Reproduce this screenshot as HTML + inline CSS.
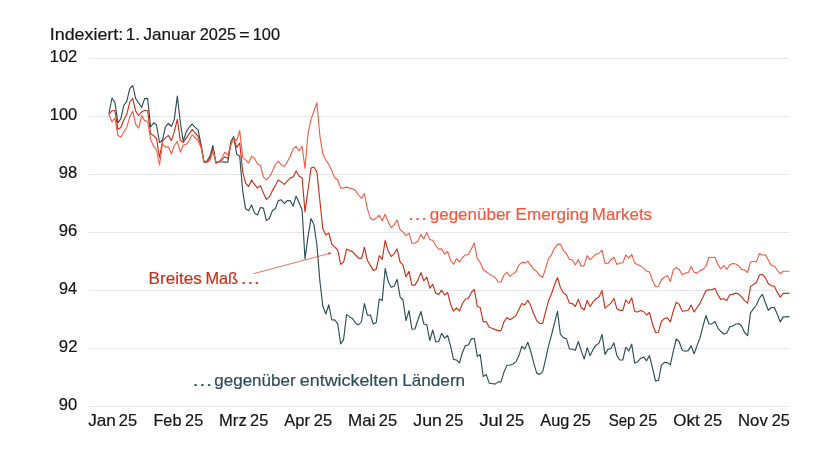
<!DOCTYPE html>
<html lang="de"><head><meta charset="utf-8"><title>Chart</title>
<style>html,body{margin:0;padding:0;background:#fff}svg{display:block;font-family:"Liberation Sans", sans-serif}</style></head>
<body><svg width="840" height="457" viewBox="0 0 840 457">
<rect width="840" height="457" fill="#fff"/>
<line x1="89" x2="788.6" y1="58.5" y2="58.5" stroke="#e5e7e6" stroke-width="1"/>
<line x1="89" x2="788.6" y1="116.5" y2="116.5" stroke="#e5e7e6" stroke-width="1"/>
<line x1="89" x2="788.6" y1="174.5" y2="174.5" stroke="#e5e7e6" stroke-width="1"/>
<line x1="89" x2="788.6" y1="232.5" y2="232.5" stroke="#e5e7e6" stroke-width="1"/>
<line x1="89" x2="788.6" y1="290.5" y2="290.5" stroke="#e5e7e6" stroke-width="1"/>
<line x1="89" x2="788.6" y1="348.5" y2="348.5" stroke="#e5e7e6" stroke-width="1"/>
<line x1="89" x2="788.6" y1="406.5" y2="406.5" stroke="#e5e7e6" stroke-width="1"/>
<text x="49.72" y="39.9" font-size="15.9" fill="#161616" stroke="#161616" stroke-width="0.2" textLength="73.54" lengthAdjust="spacingAndGlyphs">Indexiert:</text>
<text x="125.69" y="39.9" font-size="15.9" fill="#161616" stroke="#161616" stroke-width="0.2" textLength="14.38" lengthAdjust="spacingAndGlyphs">1.</text>
<text x="143.48" y="39.9" font-size="15.9" fill="#161616" stroke="#161616" stroke-width="0.2" textLength="52.24" lengthAdjust="spacingAndGlyphs">Januar</text>
<text x="199.78" y="39.9" font-size="15.9" fill="#161616" stroke="#161616" stroke-width="0.2" textLength="36.3" lengthAdjust="spacingAndGlyphs">2025</text>
<text x="239.27" y="39.9" font-size="15.9" fill="#161616" stroke="#161616" stroke-width="0.2" textLength="10.35" lengthAdjust="spacingAndGlyphs">=</text>
<text x="252.78" y="39.9" font-size="15.9" fill="#161616" stroke="#161616" stroke-width="0.2" textLength="27.25" lengthAdjust="spacingAndGlyphs">100</text>
<text x="88.2" y="426.0" font-size="15.9" fill="#161616" stroke="#161616" stroke-width="0.2" textLength="27.71" lengthAdjust="spacingAndGlyphs">Jan</text>
<text x="118.83" y="426.0" font-size="15.9" fill="#161616" stroke="#161616" stroke-width="0.2" textLength="18.26" lengthAdjust="spacingAndGlyphs">25</text>
<text x="153.43" y="426.0" font-size="15.9" fill="#161616" stroke="#161616" stroke-width="0.2" textLength="28.05" lengthAdjust="spacingAndGlyphs">Feb</text>
<text x="185.12" y="426.0" font-size="15.9" fill="#161616" stroke="#161616" stroke-width="0.2" textLength="18.14" lengthAdjust="spacingAndGlyphs">25</text>
<text x="219.12" y="426.0" font-size="15.9" fill="#161616" stroke="#161616" stroke-width="0.2" textLength="27.54" lengthAdjust="spacingAndGlyphs">Mrz</text>
<text x="250.12" y="426.0" font-size="15.9" fill="#161616" stroke="#161616" stroke-width="0.2" textLength="18.14" lengthAdjust="spacingAndGlyphs">25</text>
<text x="284.27" y="426.0" font-size="15.9" fill="#161616" stroke="#161616" stroke-width="0.2" textLength="25.62" lengthAdjust="spacingAndGlyphs">Apr</text>
<text x="313.83" y="426.0" font-size="15.9" fill="#161616" stroke="#161616" stroke-width="0.2" textLength="18.26" lengthAdjust="spacingAndGlyphs">25</text>
<text x="348.11" y="426.0" font-size="15.9" fill="#161616" stroke="#161616" stroke-width="0.2" textLength="27.49" lengthAdjust="spacingAndGlyphs">Mai</text>
<text x="378.83" y="426.0" font-size="15.9" fill="#161616" stroke="#161616" stroke-width="0.2" textLength="18.26" lengthAdjust="spacingAndGlyphs">25</text>
<text x="413.32" y="426.0" font-size="15.9" fill="#161616" stroke="#161616" stroke-width="0.2" textLength="28.57" lengthAdjust="spacingAndGlyphs">Jun</text>
<text x="445.12" y="426.0" font-size="15.9" fill="#161616" stroke="#161616" stroke-width="0.2" textLength="18.14" lengthAdjust="spacingAndGlyphs">25</text>
<text x="479.42" y="426.0" font-size="15.9" fill="#161616" stroke="#161616" stroke-width="0.2" textLength="23.28" lengthAdjust="spacingAndGlyphs">Jul</text>
<text x="505.83" y="426.0" font-size="15.9" fill="#161616" stroke="#161616" stroke-width="0.2" textLength="18.26" lengthAdjust="spacingAndGlyphs">25</text>
<text x="540.31" y="426.0" font-size="15.9" fill="#161616" stroke="#161616" stroke-width="0.2" textLength="28.93" lengthAdjust="spacingAndGlyphs">Aug</text>
<text x="572.7" y="426.0" font-size="15.9" fill="#161616" stroke="#161616" stroke-width="0.2" textLength="18.14" lengthAdjust="spacingAndGlyphs">25</text>
<text x="608.74" y="426.0" font-size="15.9" fill="#161616" stroke="#161616" stroke-width="0.2" textLength="26.71" lengthAdjust="spacingAndGlyphs">Sep</text>
<text x="639.12" y="426.0" font-size="15.9" fill="#161616" stroke="#161616" stroke-width="0.2" textLength="18.14" lengthAdjust="spacingAndGlyphs">25</text>
<text x="673.34" y="426.0" font-size="15.9" fill="#161616" stroke="#161616" stroke-width="0.2" textLength="26.39" lengthAdjust="spacingAndGlyphs">Okt</text>
<text x="703.83" y="426.0" font-size="15.9" fill="#161616" stroke="#161616" stroke-width="0.2" textLength="18.26" lengthAdjust="spacingAndGlyphs">25</text>
<text x="738.07" y="426.0" font-size="15.9" fill="#161616" stroke="#161616" stroke-width="0.2" textLength="29.67" lengthAdjust="spacingAndGlyphs">Nov</text>
<text x="771.7" y="426.0" font-size="15.9" fill="#161616" stroke="#161616" stroke-width="0.2" textLength="18.14" lengthAdjust="spacingAndGlyphs">25</text>
<text x="49.74" y="61.9" font-size="15.9" fill="#161616" stroke="#161616" stroke-width="0.2" textLength="27.5" lengthAdjust="spacingAndGlyphs">102</text>
<text x="49.75" y="119.9" font-size="15.9" fill="#161616" stroke="#161616" stroke-width="0.2" textLength="27.55" lengthAdjust="spacingAndGlyphs">100</text>
<text x="58.89" y="177.9" font-size="15.9" fill="#161616" stroke="#161616" stroke-width="0.2" textLength="18.47" lengthAdjust="spacingAndGlyphs">98</text>
<text x="58.87" y="235.9" font-size="15.9" fill="#161616" stroke="#161616" stroke-width="0.2" textLength="18.52" lengthAdjust="spacingAndGlyphs">96</text>
<text x="58.94" y="293.9" font-size="15.9" fill="#161616" stroke="#161616" stroke-width="0.2" textLength="18.01" lengthAdjust="spacingAndGlyphs">94</text>
<text x="58.85" y="351.9" font-size="15.9" fill="#161616" stroke="#161616" stroke-width="0.2" textLength="18.61" lengthAdjust="spacingAndGlyphs">92</text>
<text x="58.89" y="409.9" font-size="15.9" fill="#161616" stroke="#161616" stroke-width="0.2" textLength="18.45" lengthAdjust="spacingAndGlyphs">90</text>
<polyline points="109.0,113.0 112.0,98.0 114.9,102.4 117.9,123.0 120.9,118.6 123.8,105.5 126.8,101.1 129.8,88.6 132.8,85.5 135.7,98.6 138.7,103.0 141.7,107.4 144.6,98.6 147.6,98.4 150.6,127.0 153.6,122.8 156.5,125.0 159.5,142.5 162.5,140.0 165.4,126.9 168.4,123.5 171.4,126.5 174.3,119.4 177.3,96.1 180.3,122.0 183.2,141.2 186.2,131.9 189.2,127.2 192.2,124.0 195.1,127.4 198.1,129.9 201.1,144.9 204.0,161.8 207.0,161.1 210.0,156.1 212.9,145.5 215.9,163.2 218.9,161.8 221.9,162.0 224.8,162.1 227.8,162.1 230.8,141.8 233.7,136.5 236.7,154.2 239.7,156.2 242.7,191.0 245.6,208.8 248.6,210.6 251.6,205.0 254.5,213.1 257.5,215.0 260.5,207.5 263.4,208.1 266.4,220.6 269.4,218.5 272.4,210.6 275.3,208.8 278.3,200.6 281.3,199.8 284.2,203.5 287.2,200.6 290.2,200.6 293.1,206.2 296.1,196.2 299.1,202.5 302.1,210.0 305.0,258.8 308.0,236.9 311.0,218.5 313.9,224.4 316.9,245.0 319.9,281.2 322.8,306.0 325.8,314.0 328.8,304.8 331.8,320.0 334.7,319.8 337.7,323.8 340.7,344.0 343.6,339.4 346.6,314.4 349.6,316.9 352.5,318.5 355.5,323.1 358.5,325.0 361.5,321.5 364.4,303.5 367.4,315.2 370.4,315.0 373.3,324.0 376.3,322.5 379.3,299.0 382.2,300.6 385.2,268.5 388.2,281.6 391.2,287.3 394.1,286.2 397.1,279.4 400.1,296.9 403.0,300.0 406.0,320.6 409.0,310.6 411.9,329.2 414.9,329.0 417.9,320.0 420.9,311.5 423.8,324.0 426.8,324.8 429.8,340.5 432.7,330.0 435.7,341.9 438.7,341.5 441.6,333.4 444.6,338.1 447.6,335.5 450.6,346.2 453.5,359.4 456.5,360.0 459.5,362.8 462.4,352.5 465.4,345.6 468.4,345.0 471.3,338.9 474.3,338.5 477.3,356.4 480.2,354.6 483.2,376.4 486.2,374.4 489.2,383.1 492.1,383.5 495.1,384.1 498.1,381.9 501.0,381.9 504.0,371.9 507.0,365.2 510.0,365.2 512.9,364.0 515.9,361.9 518.9,355.6 521.8,346.5 524.8,349.0 527.8,342.2 530.7,351.2 533.7,362.8 536.7,373.1 539.7,374.4 542.6,371.9 545.6,359.4 548.6,345.6 551.5,335.0 554.5,323.0 557.5,311.2 560.4,334.4 563.4,337.6 566.4,338.7 569.4,348.9 572.3,349.2 575.3,350.2 578.3,341.5 581.2,350.6 584.2,359.0 587.2,347.8 590.1,355.6 593.1,349.4 596.1,345.2 599.0,343.1 602.0,334.4 605.0,354.4 608.0,349.4 610.9,348.5 613.9,342.8 616.9,355.6 619.8,360.0 622.8,360.0 625.8,347.2 628.8,351.0 631.7,344.2 634.7,363.1 637.7,361.7 640.6,358.3 643.6,357.1 646.6,360.8 649.5,355.6 652.5,368.1 655.5,381.0 658.5,380.4 661.4,365.4 664.4,362.4 667.4,362.6 670.3,364.8 673.3,351.2 676.3,339.0 679.2,341.7 682.2,350.0 685.2,351.2 688.2,350.6 691.1,345.6 694.1,353.8 697.1,345.6 700.0,337.8 703.0,326.2 706.0,315.5 708.9,324.0 711.9,323.9 714.9,321.4 717.9,328.1 720.8,331.5 723.8,334.0 726.8,333.1 729.7,326.9 732.7,326.0 735.7,324.2 738.6,323.5 741.6,326.0 744.6,332.5 747.6,335.6 750.5,312.8 753.5,308.8 756.5,305.0 759.4,298.1 762.4,294.4 765.4,302.8 768.3,310.2 771.3,307.5 774.3,307.5 777.2,314.0 780.2,321.9 783.2,316.9 786.2,316.9 789.1,316.6" fill="none" stroke="#2e4f57" stroke-width="1.15" stroke-linejoin="round" stroke-linecap="round"/>
<polyline points="109.0,113.9 112.0,110.8 114.9,110.5 117.9,129.3 120.9,127.5 123.8,120.0 126.8,114.3 129.8,101.8 132.8,98.6 135.7,111.1 138.7,115.5 141.7,111.8 144.6,110.5 147.6,110.5 150.6,133.8 153.6,135.6 156.5,138.5 159.5,157.5 162.5,141.2 165.4,138.1 168.4,135.4 171.4,140.6 174.3,131.9 177.3,119.4 180.3,140.6 183.2,142.5 186.2,138.1 189.2,133.8 192.2,129.4 195.1,133.0 198.1,136.2 201.1,146.1 204.0,162.0 207.0,161.8 210.0,158.0 212.9,148.6 215.9,162.4 218.9,161.5 221.9,159.9 224.8,156.8 227.8,158.6 230.8,144.9 233.7,138.0 236.7,147.4 239.7,143.0 242.7,171.9 245.6,183.1 248.6,186.5 251.6,180.0 254.5,184.4 257.5,188.1 260.5,185.6 263.4,193.1 266.4,199.4 269.4,196.9 272.4,190.6 275.3,185.6 278.3,180.0 281.3,181.9 284.2,184.4 287.2,181.2 290.2,178.1 293.1,176.9 296.1,171.0 299.1,176.2 302.1,177.8 305.0,211.9 308.0,190.0 311.0,168.1 313.9,167.0 316.9,171.9 319.9,201.0 322.8,228.5 325.8,235.0 328.8,233.0 331.8,244.0 334.7,246.9 337.7,250.0 340.7,264.4 343.6,262.2 346.6,249.0 349.6,250.6 352.5,251.6 355.5,255.0 358.5,258.1 361.5,258.5 364.4,247.2 367.4,260.5 370.4,265.4 373.3,270.4 376.3,269.0 379.3,255.6 382.2,259.4 385.2,240.4 388.2,251.0 391.2,256.5 394.1,253.8 397.1,248.9 400.1,262.0 403.0,264.8 406.0,276.8 409.0,271.4 411.9,285.1 414.9,285.1 417.9,280.1 420.9,272.6 423.8,280.8 426.8,277.2 429.8,288.2 432.7,284.3 435.7,293.1 438.7,294.4 441.6,290.0 444.6,295.0 447.6,292.5 450.6,304.4 453.5,311.0 456.5,307.8 459.5,311.0 462.4,303.8 465.4,299.0 468.4,298.5 471.3,292.5 474.3,289.4 477.3,306.5 480.2,307.5 483.2,321.9 486.2,321.5 489.2,327.3 492.1,328.3 495.1,329.6 498.1,330.6 501.0,330.6 504.0,321.9 507.0,317.5 510.0,319.8 512.9,317.8 515.9,315.6 518.9,309.4 521.8,303.5 524.8,305.0 527.8,300.2 530.7,305.6 533.7,313.8 536.7,320.6 539.7,323.5 542.6,323.5 545.6,311.9 548.6,300.6 551.5,293.8 554.5,285.0 557.5,277.5 560.4,287.5 563.4,293.1 566.4,295.0 569.4,303.1 572.3,303.5 575.3,306.5 578.3,299.4 581.2,307.5 584.2,310.0 587.2,300.4 590.1,306.5 593.1,301.9 596.1,298.5 599.0,296.9 602.0,290.6 605.0,308.1 608.0,305.6 610.9,303.1 613.9,298.5 616.9,308.8 619.8,310.4 622.8,310.4 625.8,300.0 628.8,303.5 631.7,297.8 634.7,311.5 637.7,311.9 640.6,310.6 643.6,311.5 646.6,315.0 649.5,312.5 652.5,323.8 655.5,332.5 658.5,332.2 661.4,321.2 664.4,318.6 667.4,317.8 670.3,321.9 673.3,311.0 676.3,302.2 679.2,304.4 682.2,311.1 685.2,311.0 688.2,310.3 691.1,305.0 694.1,311.9 697.1,307.5 700.0,303.1 703.0,296.9 706.0,290.6 708.9,289.9 711.9,289.7 714.9,288.3 717.9,295.0 720.8,299.4 723.8,298.8 726.8,300.4 729.7,294.8 732.7,294.4 735.7,293.1 738.6,294.0 741.6,296.9 744.6,300.6 747.6,303.1 750.5,286.9 753.5,284.4 756.5,282.5 759.4,275.0 762.4,274.4 765.4,277.8 768.3,283.8 771.3,285.6 774.3,286.2 777.2,291.9 780.2,297.2 783.2,293.4 786.2,293.4 789.1,293.1" fill="none" stroke="#c9331c" stroke-width="1.15" stroke-linejoin="round" stroke-linecap="round"/>
<polyline points="109.0,114.2 112.0,122.0 114.9,118.1 117.9,135.6 120.9,137.2 123.8,131.9 126.8,127.2 129.8,116.9 132.8,111.2 135.7,124.4 138.7,128.1 141.7,115.6 144.6,120.6 147.6,121.2 150.6,139.4 153.6,146.2 156.5,150.0 159.5,165.0 162.5,143.8 165.4,146.9 168.4,146.9 171.4,153.8 174.3,145.6 177.3,141.2 180.3,152.2 183.2,145.0 186.2,144.4 189.2,140.6 192.2,134.8 195.1,137.5 198.1,140.5 201.1,148.0 204.0,162.4 207.0,162.4 210.0,160.5 212.9,151.1 215.9,161.8 218.9,161.8 221.9,158.0 224.8,152.0 227.8,154.9 230.8,144.9 233.7,138.6 236.7,140.5 239.7,130.5 242.7,157.4 245.6,159.9 248.6,163.0 251.6,156.3 254.5,158.4 257.5,163.8 260.5,165.5 263.4,176.9 266.4,179.8 269.4,176.9 272.4,171.2 275.3,164.6 278.3,161.2 281.3,164.8 284.2,166.5 287.2,162.1 290.2,156.5 293.1,148.9 296.1,146.4 299.1,151.0 302.1,146.2 305.0,168.4 308.0,133.8 311.0,119.4 313.9,111.2 316.9,102.8 319.9,136.2 322.8,153.8 325.8,160.0 328.8,164.4 331.8,170.6 334.7,177.5 337.7,180.0 340.7,188.1 343.6,187.9 346.6,187.1 349.6,188.1 352.5,188.8 355.5,190.6 358.5,195.0 361.5,198.5 364.4,193.5 367.4,208.8 370.4,218.3 373.3,220.0 376.3,218.1 379.3,215.2 382.2,220.8 385.2,214.3 388.2,221.9 391.2,227.6 394.1,224.9 397.1,220.0 400.1,229.8 403.0,231.9 406.0,235.6 409.0,233.1 411.9,243.2 414.9,243.1 417.9,241.2 420.9,234.4 423.8,239.0 426.8,232.5 429.8,239.6 432.7,240.3 435.7,245.5 438.7,249.2 441.6,248.9 444.6,254.2 447.6,251.4 450.6,260.5 453.5,264.2 456.5,258.7 459.5,262.0 462.4,257.5 465.4,254.9 468.4,254.5 471.3,248.9 474.3,243.0 477.3,258.9 480.2,262.4 483.2,269.5 486.2,271.8 489.2,273.9 492.1,276.0 495.1,277.2 498.1,282.0 501.0,282.0 504.0,275.1 507.0,272.2 510.0,276.4 512.9,273.9 515.9,271.8 518.9,265.1 521.8,262.4 524.8,262.9 527.8,261.2 530.7,265.2 533.7,269.2 536.7,271.5 539.7,275.6 542.6,277.5 545.6,268.5 548.6,258.1 551.5,254.8 554.5,248.1 557.5,244.4 560.4,244.1 563.4,250.6 566.4,253.5 569.4,259.4 572.3,260.0 575.3,265.0 578.3,259.4 581.2,266.2 584.2,265.4 587.2,255.6 590.1,259.8 593.1,256.9 596.1,254.0 599.0,253.5 602.0,250.0 605.0,263.5 608.0,263.1 610.9,259.8 613.9,257.2 616.9,264.4 619.8,263.1 622.8,262.8 625.8,255.0 628.8,258.1 631.7,254.4 634.7,262.9 637.7,264.8 640.6,265.9 643.6,268.1 646.6,271.2 649.5,271.9 652.5,280.6 655.5,286.5 658.5,286.2 661.4,279.8 664.4,277.2 667.4,275.6 670.3,281.5 673.3,270.0 676.3,267.5 679.2,269.4 682.2,274.8 685.2,273.1 688.2,272.6 691.1,266.5 694.1,272.2 697.1,273.1 700.0,270.6 703.0,269.4 706.0,266.2 708.9,257.5 711.9,257.4 714.9,257.5 717.9,264.4 720.8,269.0 723.8,265.5 726.8,269.4 729.7,264.8 732.7,263.5 735.7,264.0 738.6,265.6 741.6,269.4 744.6,270.0 747.6,272.5 750.5,262.2 753.5,261.2 756.5,261.9 759.4,253.5 762.4,255.2 765.4,254.8 768.3,260.0 771.3,265.6 774.3,266.0 777.2,270.0 780.2,273.8 783.2,271.2 786.2,271.2 789.1,271.2" fill="none" stroke="#f0614a" stroke-width="1.15" stroke-linejoin="round" stroke-linecap="round"/>
<text x="407.28" y="219.6" font-size="15.9" fill="#ef5b41" stroke="#ef5b41" stroke-width="0.2" textLength="20.68" lengthAdjust="spacingAndGlyphs">…</text>
<text x="429.76" y="219.6" font-size="15.9" fill="#ef5b41" stroke="#ef5b41" stroke-width="0.2" textLength="81.29" lengthAdjust="spacingAndGlyphs">gegenüber</text>
<text x="515.6" y="219.6" font-size="15.9" fill="#ef5b41" stroke="#ef5b41" stroke-width="0.2" textLength="73.14" lengthAdjust="spacingAndGlyphs">Emerging</text>
<text x="591.86" y="219.6" font-size="15.9" fill="#ef5b41" stroke="#ef5b41" stroke-width="0.2" textLength="60.2" lengthAdjust="spacingAndGlyphs">Markets</text>
<text x="148.59" y="284.4" font-size="15.9" fill="#c9331c" stroke="#c9331c" stroke-width="0.2" textLength="53.23" lengthAdjust="spacingAndGlyphs">Breites</text>
<text x="205.49" y="284.4" font-size="15.9" fill="#c9331c" stroke="#c9331c" stroke-width="0.2" textLength="32.6" lengthAdjust="spacingAndGlyphs">Maß</text>
<text x="240.05" y="284.4" font-size="15.9" fill="#c9331c" stroke="#c9331c" stroke-width="0.2" textLength="20.68" lengthAdjust="spacingAndGlyphs">…</text>
<text x="191.65" y="385.6" font-size="15.9" fill="#2e4f57" stroke="#2e4f57" stroke-width="0.2" textLength="21.15" lengthAdjust="spacingAndGlyphs">…</text>
<text x="214.26" y="385.6" font-size="15.9" fill="#2e4f57" stroke="#2e4f57" stroke-width="0.2" textLength="81.4" lengthAdjust="spacingAndGlyphs">gegenüber</text>
<text x="299.82" y="385.6" font-size="15.9" fill="#2e4f57" stroke="#2e4f57" stroke-width="0.2" textLength="98.35" lengthAdjust="spacingAndGlyphs">entwickelten</text>
<text x="402.35" y="385.6" font-size="15.9" fill="#2e4f57" stroke="#2e4f57" stroke-width="0.2" textLength="62.75" lengthAdjust="spacingAndGlyphs">Ländern</text>
<line x1="253.4" y1="273.75" x2="329" y2="253.5" stroke="#d13c24" stroke-width="0.7"/>
<path d="M331.6,252.85 L328.9,254.9 L328.2,252.4 Z" fill="#cc3318"/>
</svg></body></html>
